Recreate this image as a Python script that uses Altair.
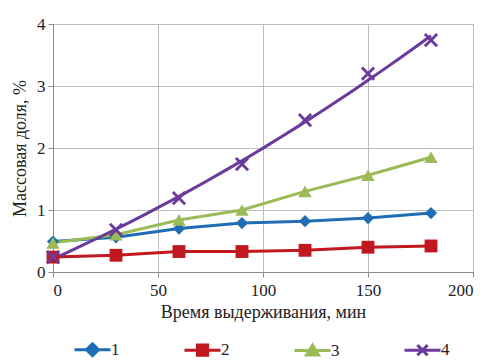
import altair as alt
import pandas as pd

times = [0, 30, 60, 90, 120, 150, 180]
s1 = [0.49, 0.56, 0.70, 0.79, 0.82, 0.87, 0.95]
s2 = [0.24, 0.27, 0.33, 0.33, 0.35, 0.40, 0.42]
s3 = [0.47, 0.60, 0.84, 1.00, 1.30, 1.56, 1.85]
s4 = [0.24, 0.68, 1.19, 1.74, 2.45, 3.20, 3.74]
series_names = ["1", "2", "3", "4"]
colors = ["#1f6db4", "#c0181e", "#9bbb59", "#6b3a9a"]

x_path = "M-1,-1L1,1M-1,1L1,-1"
filled_shapes = ["diamond", "square", "triangle-up"]
legend_shapes = [
    "M-3,0L3,0M0,-1L1,0L0,1L-1,0Z",
    "M-3,0L3,0M-0.85,-0.85L0.85,-0.85L0.85,0.85L-0.85,0.85Z",
    "M-3,0L3,0M0,-0.9L1,0.75L-1,0.75Z",
    "M-3,0L3,0M-0.85,-0.85L0.85,0.85M-0.85,0.85L0.85,-0.85",
]

rows = []
for name, vals in zip(series_names, [s1, s2, s3, s4]):
    for t, v in zip(times, vals):
        rows.append({"t": t, "v": v, "series": name})
df = pd.DataFrame(rows)

FONT = "Liberation Serif, DejaVu Serif, serif"

xenc = alt.X("t:Q", scale=alt.Scale(domain=[0, 200]),
             axis=alt.Axis(values=[0, 50, 100, 150, 200], title="Время выдерживания, мин",
                           labelPadding=5, titlePadding=5))
yenc = alt.Y("v:Q", scale=alt.Scale(domain=[0, 4]),
             axis=alt.Axis(values=[0, 1, 2, 3, 4], title="Массовая доля, %",
                           labelPadding=3, titlePadding=7))

def cscale():
    return alt.Scale(domain=series_names, range=colors)

base = alt.Chart(df)

lines = base.transform_filter(alt.datum.series != "4").mark_line(strokeWidth=3).encode(
    x=xenc, y=yenc,
    color=alt.Color("series:N", scale=cscale(), legend=None),
)

trend = base.transform_filter(alt.datum.series == "4").transform_regression(
    "t", "v", method="poly", order=2, extent=[0, 180]
).mark_line(strokeWidth=3, color=colors[3]).encode(x=xenc, y=yenc)

points = base.transform_filter(alt.datum.series != "4").mark_point(filled=True, opacity=1).encode(
    x=xenc, y=yenc,
    shape=alt.Shape("series:N", scale=alt.Scale(domain=series_names[:3], range=filled_shapes), legend=None),
    color=alt.Color("series:N", scale=cscale(), legend=None),
    size=alt.Size("series:N", scale=alt.Scale(domain=series_names[:3], range=[150, 180, 190]), legend=None),
)

xpoints = base.transform_filter(alt.datum.series == "4").mark_point(
    shape=x_path, filled=False, strokeWidth=2.8, size=150, color=colors[3], opacity=1
).encode(x=xenc, y=yenc)

leg = alt.Legend(
    orient="none", direction="horizontal", legendX=31, legendY=317,
    title=None, symbolSize=144, symbolStrokeWidth=3, symbolOpacity=1,
    labelFont=FONT, labelFontSize=17, labelColor="#222222", labelOffset=10,
    columnPadding=58,
)

legend_layer = base.transform_filter(alt.datum.t == 0).mark_point(filled=True, opacity=0).encode(
    x=xenc, y=yenc,
    shape=alt.Shape("series:N", scale=alt.Scale(domain=series_names, range=legend_shapes), legend=leg),
    fill=alt.Fill("series:N", scale=cscale(), legend=leg),
    stroke=alt.Stroke("series:N", scale=cscale(), legend=leg),
)

main = alt.layer(lines, trend, points, xpoints)

chart = alt.layer(main, legend_layer).resolve_scale(
    shape="independent", size="independent", fill="independent", stroke="independent"
).properties(
    width=420, height=248,
    autosize=alt.AutoSizeParams(type="none"),
    padding={"left": 45, "top": 16, "right": 13, "bottom": 92},
).configure_view(
    stroke="#8c8c8c", strokeWidth=1
).configure_axis(
    labelFont=FONT, labelFontSize=17, labelColor="#222222",
    titleFont=FONT, titleFontSize=18, titleColor="#222222", titleFontWeight="normal",
    gridColor="#bdbdbd", gridWidth=1,
    domainColor="#8c8c8c", tickColor="#8c8c8c", tickSize=5,
)

chart.save("out.html", embed_options={"renderer": "svg", "actions": False})
